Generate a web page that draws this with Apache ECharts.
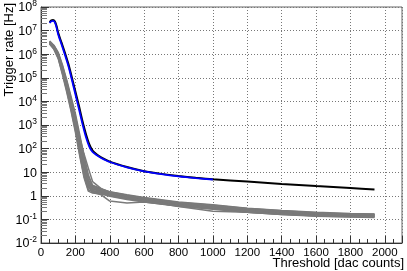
<!DOCTYPE html>
<html>
<head>
<meta charset="utf-8">
<script src="https://cdn.jsdelivr.net/npm/echarts@6/dist/echarts.min.js"></script>
<style>
html,body{margin:0;padding:0;background:#fff;}
#c{width:407px;height:271px;}
</style>
</head>
<body>
<div id="c"></div>
<script>
// ---- data ----
const xTicks = [0, 200, 400, 600, 800, 1000, 1200, 1400, 1600, 1800, 2000];
const yTickLabels = ['10^-2', '10^-1', '1', '10', '10^2', '10^3', '10^4', '10^5', '10^6', '10^7', '10^8'];

const thrBlack = [50, 60, 70, 80, 90, 100, 120, 140, 160, 180, 200, 220, 240, 260, 280, 300, 325, 350, 400, 500, 600, 700, 800, 900, 1000, 1200, 1400, 1600, 1800, 1940];
const rateBlack = [2.3e7, 2.7e7, 2.8e7, 2.5e7, 1.6e7, 8e6, 3e6, 1.1e6, 3.7e5, 1e5, 2.6e4, 6.8e3, 1.6e3, 450, 160, 83, 56, 42, 28, 16.5, 11, 8.5, 6.9, 5.8, 5.0, 4.0, 3.2, 2.6, 2.15, 1.86];

const thrBlue = [50, 60, 70, 80, 90, 100, 120, 140, 160, 180, 200, 220, 240, 260, 280, 300, 325, 350, 400, 500, 600, 700, 800, 900, 1000];
const rateBlue = [2.1e7, 2.5e7, 2.6e7, 2.3e7, 1.4e7, 6.8e6, 2.5e6, 9e5, 3e5, 8e4, 2e4, 5e3, 1.2e3, 330, 125, 72, 52, 40, 27, 16, 10.8, 8.2, 6.6, 5.6, 4.9];

const thrGray = [50, 75, 100, 125, 150, 175, 200, 225, 250, 275, 300, 350, 400, 500, 600, 800, 1000, 1200, 1400, 1600, 1800, 1940];
const gray01 = [3.2e6, 2.0e6, 9e5, 2.2e5, 4.5e4, 8e3, 1.3e3, 140, 18, 3.5, 2.0, 1.6, 1.2, 0.9, 0.68, 0.45, 0.34, 0.25, 0.2, 0.17, 0.155, 0.148];
const gray02 = [3.6e6, 2.4e6, 1.2e6, 3.5e5, 8e4, 1.6e4, 3e3, 400, 50, 8, 2.6, 1.9, 1.5, 1.1, 0.85, 0.55, 0.42, 0.3, 0.24, 0.2, 0.18, 0.17];
const gray03 = [2.8e6, 1.7e6, 7e5, 1.5e5, 2.8e4, 4.5e3, 600, 60, 7, 1.8, 1.5, 1.3, 1.0, 0.75, 0.58, 0.38, 0.28, 0.21, 0.17, 0.14, 0.13, 0.125];
const gray04 = [3.0e6, 1.9e6, 8e5, 2e5, 4e4, 7e3, 1.1e3, 110, 14, 3, 1.9, 1.5, 1.1, 0.8, 0.62, 0.42, 0.31, 0.23, 0.19, 0.16, 0.145, 0.14];
const gray05 = [3.4e6, 2.2e6, 1.05e6, 2.8e5, 6e4, 1.1e4, 2e3, 250, 30, 5, 2.3, 1.8, 1.35, 1.0, 0.75, 0.5, 0.38, 0.28, 0.22, 0.18, 0.165, 0.16];
const gray06 = [3.1e6, 2.0e6, 8.5e5, 2.1e5, 4.2e4, 7.5e3, 1.2e3, 130, 16, 2.8, 1.4, 1.1, 0.6, 0.5, 0.55, 0.38, 0.3, 0.2, 0.17, 0.15, 0.14, 0.135];
const gray07 = [2.9e6, 1.8e6, 7.5e5, 1.7e5, 3.2e4, 5.5e3, 800, 80, 10, 2.2, 1.6, 1.4, 1.1, 0.85, 0.65, 0.43, 0.33, 0.24, 0.18, 0.155, 0.14, 0.135];
const gray08 = [3.3e6, 2.1e6, 1e6, 2.5e5, 5.2e4, 9.5e3, 1.6e3, 190, 24, 4.2, 2.2, 1.7, 1.3, 0.95, 0.72, 0.47, 0.36, 0.27, 0.21, 0.175, 0.16, 0.155];
const gray09 = [2.7e6, 1.6e6, 6.5e5, 1.35e5, 2.4e4, 3.8e3, 500, 50, 6, 1.6, 1.3, 1.2, 0.95, 0.7, 0.55, 0.36, 0.27, 0.2, 0.16, 0.135, 0.125, 0.12];
const gray10 = [3.5e6, 2.3e6, 1.1e6, 3.1e5, 7e4, 1.3e4, 2.4e3, 300, 40, 6.5, 2.8, 2.0, 1.45, 1.05, 0.8, 0.52, 0.4, 0.29, 0.23, 0.19, 0.17, 0.165];
const gray11 = [3.0e6, 1.9e6, 8.2e5, 1.9e5, 3.8e4, 6.5e3, 1.0e3, 100, 12, 2.6, 1.7, 1.35, 1.05, 0.82, 0.63, 0.35, 0.22, 0.2, 0.16, 0.145, 0.135, 0.13];
const gray12 = [3.2e6, 2.05e6, 9.2e5, 2.3e5, 4.8e4, 8.5e3, 1.4e3, 300, 60, 15, 4, 2.0, 1.4, 1.0, 0.78, 0.5, 0.37, 0.27, 0.21, 0.18, 0.16, 0.155];
const grayList = [gray01, gray02, gray03, gray04, gray05, gray06, gray07, gray08, gray09, gray10, gray11, gray12];

// ---- chart ----
const FONT = 'Liberation Sans, Arial, sans-serif';
const chart = echarts.init(document.getElementById('c'), null, {renderer: 'canvas'});

function pair(xs, ys) { return xs.map((x, i) => [x, ys[i]]); }

const series = [];
grayList.forEach(g => {
  series.push({
    type: 'line', data: pair(thrGray, g), showSymbol: false, silent: true,
    lineStyle: {color: '#7a7a7a', width: 1.5}, z: 2
  });
});
series.push({
  type: 'line', data: pair(thrBlack, rateBlack), showSymbol: false, silent: true, smooth: 0.25,
  lineStyle: {color: '#000000', width: 2}, z: 3
});
series.push({
  type: 'line', data: pair(thrBlue, rateBlue), showSymbol: false, silent: true, smooth: 0.25,
  lineStyle: {color: '#0000ff', width: 1.8}, z: 4
});

function yLabel(v) {
  const e = Math.round(Math.log10(v));
  const s = yTickLabels[e + 2];
  if (s === undefined) return '';
  const parts = s.split('^');
  if (parts.length === 1) return '{b|' + s + '}';
  return '{b|' + parts[0] + '}{s|' + parts[1] + '}';
}

chart.setOption({
  animation: false,
  backgroundColor: '#ffffff',
  grid: {left: 41, right: 5, top: 7, bottom: 28, show: true, borderColor: '#666', borderWidth: 1,
         backgroundColor: 'transparent', outerBoundsMode: 'none', containLabel: false},
  xAxis: {
    type: 'value', min: 0, max: 2100, interval: 200,
    axisLine: {show: true, lineStyle: {color: '#333', width: 1}},
    axisTick: {show: true, inside: true, length: 7, lineStyle: {color: '#333'}},
    minorTick: {show: true, splitNumber: 4, length: 4, lineStyle: {color: '#333'}},
    splitLine: {show: true, lineStyle: {color: '#777', type: [1, 2], width: 1}},
    axisLabel: {
      showMaxLabel: false, color: '#000', fontFamily: FONT, fontSize: 11.5, margin: 4,
      formatter: v => (xTicks.indexOf(v) >= 0 ? String(v) : '')
    }
  },
  yAxis: {
    type: 'log', logBase: 10, min: 0.01, max: 1e8, splitNumber: 10, interval: 1,
    axisLine: {show: true, lineStyle: {color: '#333', width: 1}},
    axisTick: {show: true, inside: true, length: 8, lineStyle: {color: '#333'}},
    minorTick: {show: true, splitNumber: 8, length: 6, lineStyle: {color: '#777'}},
    splitLine: {show: true, lineStyle: {color: '#777', type: [1, 2], width: 1}},
    axisLabel: {
      color: '#000', fontFamily: FONT, margin: 4, showMinLabel: true, showMaxLabel: true,
      formatter: yLabel,
      rich: {
        b: {fontSize: 12.5, fontFamily: FONT, color: '#000', lineHeight: 15, verticalAlign: 'bottom'},
        s: {fontSize: 8.5, fontFamily: FONT, color: '#000', lineHeight: 15, verticalAlign: 'top', padding: [0, 0, 6, 0]}
      }
    }
  },
  graphic: [{
    type: 'text', rotation: Math.PI / 2, x: 3, y: 3,
    style: {text: 'Trigger rate [Hz]', font: '13px ' + FONT, fill: '#000', align: 'right', verticalAlign: 'top'}
  }, {
    type: 'text', x: 404, y: 257,
    style: {text: 'Threshold [dac counts]', font: '13px ' + FONT, fill: '#000', align: 'right', verticalAlign: 'top'}
  }],
  series: series
});
</script>
</body>
</html>
